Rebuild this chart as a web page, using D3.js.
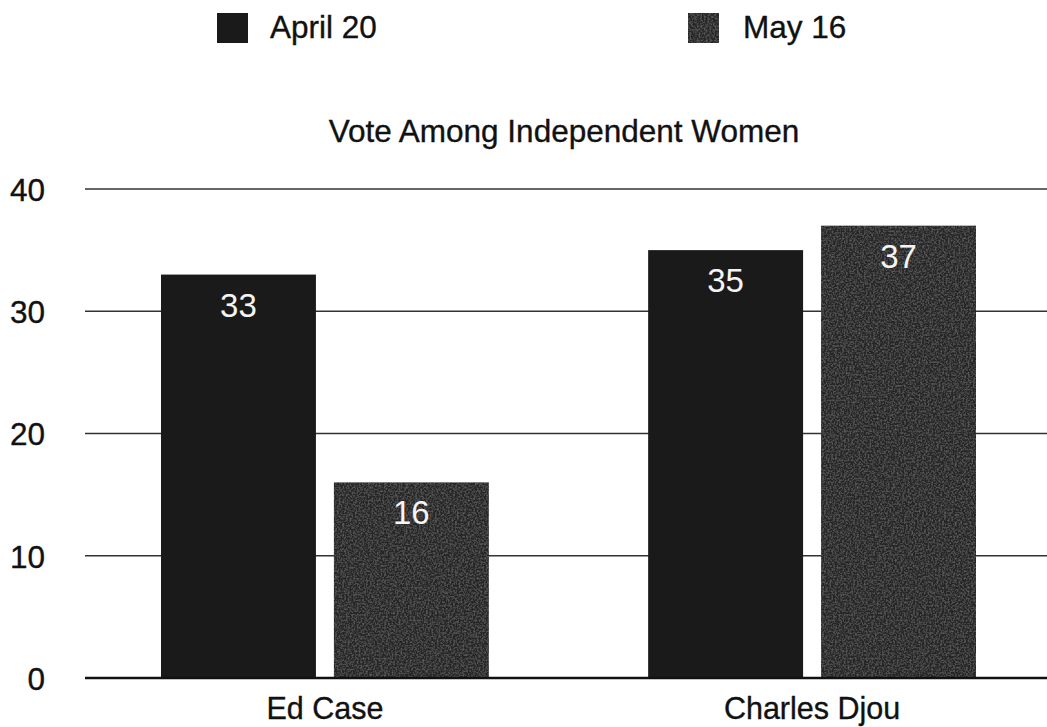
<!DOCTYPE html>
<html>
<head>
<meta charset="utf-8">
<script src="https://cdn.jsdelivr.net/npm/d3@7"></script>
<style>
  html, body { margin: 0; padding: 0; background: #ffffff; }
  svg { display: block; }
  text { font-family: "Liberation Sans", Arial, Helvetica, sans-serif; fill: #111; stroke: #111; stroke-width: 0.35px; }
</style>
</head>
<body>
<svg id="chart" width="1047" height="727"></svg>
<script>
// Vote among independent women, two poll dates per candidate
const candidates = ["Ed Case", "Charles Djou"];
const pollDates = ["April 20", "May 16"];
const april20 = [33, 35];
const may16 = [16, 37];
const yTicks = [0, 10, 20, 30, 40];
const title = "Vote Among Independent Women";

const seriesValues = [april20, may16];
const colors = ["#1a1a1a", "#282828"];

const svg = d3.select("#chart");
const W = 1047;
const FONT = 31.5;

// fine grain for the second series
const defs = svg.append("defs");
const grain = defs.append("filter").attr("id", "grain")
  .attr("x", 0).attr("y", 0).attr("width", 1).attr("height", 1);
grain.append("feTurbulence").attr("type", "fractalNoise")
  .attr("baseFrequency", 0.55).attr("numOctaves", 2).attr("seed", 4).attr("result", "noise");
grain.append("feColorMatrix").attr("in", "noise").attr("type", "matrix")
  .attr("values", "0 0 0 0 0.33  0 0 0 0 0.33  0 0 0 0 0.33  0 0 0 0.7 -0.28")
  .attr("result", "speck");
grain.append("feComposite").attr("in", "speck").attr("in2", "SourceGraphic")
  .attr("operator", "in").attr("result", "speckIn");
grain.append("feMerge").selectAll("feMergeNode")
  .data(["SourceGraphic", "speckIn"]).join("feMergeNode").attr("in", d => d);

const y = d3.scaleLinear().domain([0, 40]).range([678, 189]);

const x0 = d3.scaleBand().domain(candidates).range([85, 1052])
  .paddingInner(0.327).paddingOuter(0.156);
const x1 = d3.scaleBand().domain(pollDates).range([0, x0.bandwidth()])
  .paddingInner(0.104).paddingOuter(0);

// horizontal gridlines
svg.append("g").selectAll("line")
  .data(yTicks.filter(t => t > 0)).join("line")
  .attr("x1", 85).attr("x2", W)
  .attr("y1", d => y(d)).attr("y2", d => y(d))
  .attr("stroke", "#333").attr("stroke-width", 1.6);

// y axis labels
const yAxis = d3.axisLeft(y).tickValues(yTicks).tickSize(0).tickPadding(0);
const gy = svg.append("g").attr("transform", "translate(45,0)").call(yAxis);
gy.select(".domain").remove();
gy.selectAll("text").attr("font-size", FONT).attr("fill", "#111")
  .attr("font-family", "'Liberation Sans', Arial, sans-serif").attr("dy", "0.36em");

// bars
const groups = svg.append("g").selectAll("g")
  .data(candidates).join("g")
  .attr("transform", d => `translate(${x0(d)},0)`);

groups.selectAll("rect")
  .data((c, ci) => pollDates.map((p, pi) => ({ p, pi, v: seriesValues[pi][ci] })))
  .join("rect")
  .attr("x", d => x1(d.p))
  .attr("width", x1.bandwidth())
  .attr("y", d => y(d.v))
  .attr("height", d => y(0) - y(d.v))
  .attr("fill", d => colors[d.pi])
  .attr("filter", d => d.pi === 1 ? "url(#grain)" : null);

groups.selectAll("text.val")
  .data((c, ci) => pollDates.map((p, pi) => ({ p, pi, v: seriesValues[pi][ci] })))
  .join("text")
  .attr("class", "val")
  .attr("x", d => x1(d.p) + x1.bandwidth() / 2)
  .attr("y", d => y(d.v) + 42)
  .attr("text-anchor", "middle")
  .attr("font-size", 33)
  .style("fill", "#f4f4f4")
  .style("stroke", "none")
  .text(d => d.v);

// baseline
svg.append("line")
  .attr("x1", 85).attr("x2", W)
  .attr("y1", y(0)).attr("y2", y(0))
  .attr("stroke", "#111").attr("stroke-width", 2.4);

// category labels
const xAxis = d3.axisBottom(x0).tickSize(0).tickPadding(0);
const gx = svg.append("g").attr("transform", `translate(0,${y(0)})`).call(xAxis);
gx.select(".domain").remove();
gx.selectAll("text").attr("font-size", 30.5).attr("fill", "#111")
  .attr("font-family", "'Liberation Sans', Arial, sans-serif")
  .attr("dy", null).attr("y", 41);

// title
svg.append("text")
  .attr("x", 564).attr("y", 142)
  .attr("text-anchor", "middle")
  .attr("font-size", FONT)
  .text(title);

// legend
const legendX = [217, 688];
const legend = svg.append("g").selectAll("g")
  .data(pollDates).join("g")
  .attr("transform", (d, i) => `translate(${legendX[i]},13)`);
legend.append("rect")
  .attr("width", 31).attr("height", 30)
  .attr("fill", (d, i) => colors[i])
  .attr("filter", (d, i) => i === 1 ? "url(#grain)" : null);
legend.append("text")
  .attr("x", (d, i) => i === 0 ? 53 : 55)
  .attr("y", 25)
  .attr("font-size", FONT)
  .text(d => d);
</script>
</body>
</html>
